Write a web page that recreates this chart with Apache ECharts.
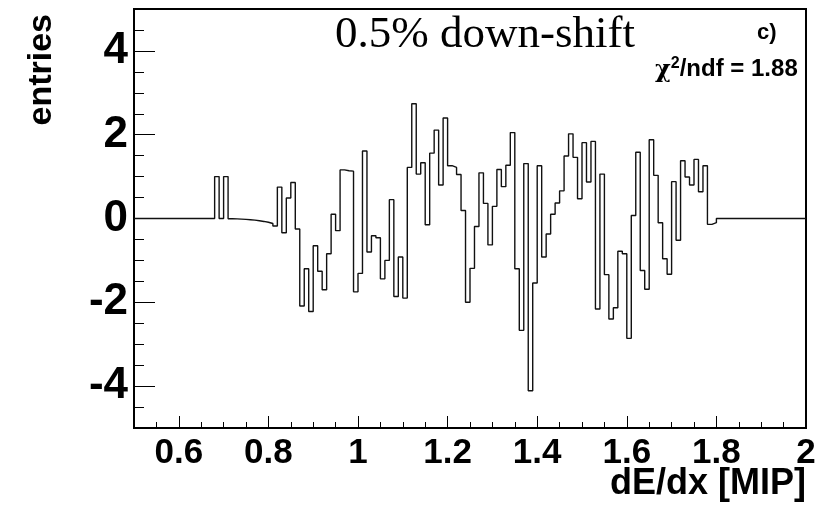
<!DOCTYPE html>
<html>
<head>
<meta charset="utf-8">
<script src="https://cdn.jsdelivr.net/npm/echarts@6/dist/echarts.min.js"></script>
<style>
  html, body { margin: 0; padding: 0; background: #fff; }
  #chart { width: 831px; height: 507px; }
</style>
</head>
<body>
<div id="chart"></div>
<script>
// histogram: 150 bins of 0.01 from 0.5 to 2.0
const xMin = 0.5;
const xMax = 2.0;
const binWidth = 0.01;
const entries = [
  0, 0, 0, 0, 0, 0, 0, 0, 0, 0,                 // 0.50 - 0.59
  0, 0, 0, 0, 0, 0, 0, 0, 1.0, 0,               // 0.60 - 0.69
  1.0, -0.005, -0.01, -0.015, -0.02, -0.03, -0.04, -0.055, -0.07, -0.09, // 0.70 - 0.79
  -0.12, -0.18, 0.75, -0.34, 0.49, 0.86, -0.25, -2.09, -1.20, -2.22,    // 0.80 - 0.89
  -0.65, -1.26, -1.70, -0.84, 0.10, -0.29, 1.16, 1.14, 1.13, -1.75,     // 0.90 - 0.99
  -1.31, 1.61, -0.80, -0.41, -0.46, -1.44, -1.00, 0.45, -1.86, -0.92,   // 1.00 - 1.09
  -1.90, 1.22, 2.74, 1.06, 1.33, -0.15, 1.56, 2.11, 0.80, 2.40,         // 1.10 - 1.19
  1.26, 1.22, 1.05, 0.19, -2.00, -1.19, -0.19, 1.09, 0.36, -0.63,       // 1.20 - 1.29
  0.29, 1.17, 0.76, 1.27, 2.05, -1.20, -2.67, 1.31, -4.11, -1.54,       // 1.30 - 1.39
  1.26, -0.92, -0.37, 0.10, 0.37, 0.66, 1.49, 2.02, 1.46, 0.47,         // 1.40 - 1.49
  1.81, 0.87, 1.84, -2.16, 1.06, -1.34, -2.40, -2.13, -0.78, -0.84,     // 1.50 - 1.59
  -2.86, 0.07, 1.58, -1.24, -1.69, 1.88, 1.03, -0.10, -0.96, -1.33,     // 1.60 - 1.69
  0.88, -0.52, 1.38, 0.99, 0.80, 1.41, 0.64, 1.26, -0.14, -0.10,        // 1.70 - 1.79
  0, 0, 0, 0, 0, 0, 0, 0, 0, 0,                 // 1.80 - 1.89
  0, 0, 0, 0, 0, 0, 0, 0, 0, 0                  // 1.90 - 1.99
];
const xMajorTicks = [0.6, 0.8, 1.0, 1.2, 1.4, 1.6, 1.8, 2.0];
const yMajorTicks = [-4, -2, 0, 2, 4];

const chartDom = document.getElementById('chart');
const myChart = echarts.init(chartDom);

const steps = entries.map((v, i) => [+(xMin + i * binWidth).toFixed(2), v]);
steps.push([xMax, entries[entries.length - 1]]);

const labelFont = 'Liberation Sans, Arial, sans-serif';
// same frame for both grids; grid 1 only carries the major ticks and labels
const gridBox = { left: 134, top: 9, width: 672, height: 419, outerBoundsMode: 'none', containLabel: false };

const option = {
  backgroundColor: '#fff',
  animation: false,
  grid: [
    Object.assign({ show: true, borderColor: '#000', borderWidth: 2, backgroundColor: 'transparent' }, gridBox),
    Object.assign({ show: false }, gridBox)
  ],
  xAxis: [
    {
      type: 'value', gridIndex: 0, min: xMin, max: xMax, interval: 0.05,
      axisLine: { show: false, onZero: false },
      axisTick: { show: true, inside: true, length: 6, lineStyle: { color: '#000', width: 1 } },
      axisLabel: { show: false },
      splitLine: { show: false }
    },
    {
      type: 'value', gridIndex: 1, min: xMin, max: xMax,
      axisLine: { show: false, onZero: false },
      axisTick: { show: true, inside: true, length: 12, customValues: xMajorTicks, lineStyle: { color: '#000', width: 1 } },
      axisLabel: {
        customValues: xMajorTicks, margin: 8, color: '#000',
        fontFamily: labelFont, fontWeight: 'bold', fontSize: 35,
        formatter: v => String(Number(v.toFixed(1)))
      },
      splitLine: { show: false }
    }
  ],
  yAxis: [
    {
      type: 'value', gridIndex: 0, min: -5, max: 5, interval: 0.5,
      axisLine: { show: false, onZero: false },
      axisTick: { show: true, inside: true, length: 10, lineStyle: { color: '#000', width: 1 } },
      axisLabel: { show: false },
      splitLine: { show: false }
    },
    {
      type: 'value', gridIndex: 1, min: -5, max: 5,
      axisLine: { show: false, onZero: false },
      axisTick: { show: true, inside: true, length: 21, customValues: yMajorTicks, lineStyle: { color: '#000', width: 1 } },
      axisLabel: {
        customValues: yMajorTicks, margin: 6, color: '#000',
        fontFamily: labelFont, fontWeight: 'bold', fontSize: 44
      },
      splitLine: { show: false }
    }
  ],
  title: [
    {
      text: '0.5% down-shift', left: 480, top: 8, textAlign: 'center',
      textStyle: { color: '#000', fontFamily: 'Liberation Serif, serif', fontWeight: 'normal', fontSize: 45 }
    },
    {
      text: 'c)', left: 752, top: 17,
      textStyle: { color: '#000', fontFamily: labelFont, fontWeight: 'bold', fontSize: 22 }
    },
    {
      text: '{g|χ}{s|2}{t|/ndf = 1.88}', left: 650, top: 51,
      textStyle: {
        rich: {
          g: { color: '#000', fontFamily: 'DejaVu Serif, serif', fontSize: 24, verticalAlign: 'bottom' },
          s: { color: '#000', fontFamily: labelFont, fontWeight: 'bold', fontSize: 16, verticalAlign: 'top', padding: [0, 0, 11, 0] },
          t: { color: '#000', fontFamily: labelFont, fontWeight: 'bold', fontSize: 24 }
        }
      }
    }
  ],
  graphic: [
    {
      type: 'text', x: 42, y: 14, rotation: Math.PI / 2,
      style: {
        text: 'entries', fill: '#000', font: 'bold 34px ' + labelFont,
        align: 'right', verticalAlign: 'middle'
      }
    },
    {
      type: 'text', x: 806, y: 466,
      style: {
        text: 'dE/dx [MIP]', fill: '#000', font: 'bold 36px ' + labelFont,
        align: 'right', verticalAlign: 'top'
      }
    }
  ],
  series: [
    {
      type: 'line', xAxisIndex: 0, yAxisIndex: 0,
      step: 'end', data: steps, symbol: 'none',
      lineStyle: { color: '#111', width: 1.4 }
    }
  ]
};

option && myChart.setOption(option);
</script>
</body>
</html>
